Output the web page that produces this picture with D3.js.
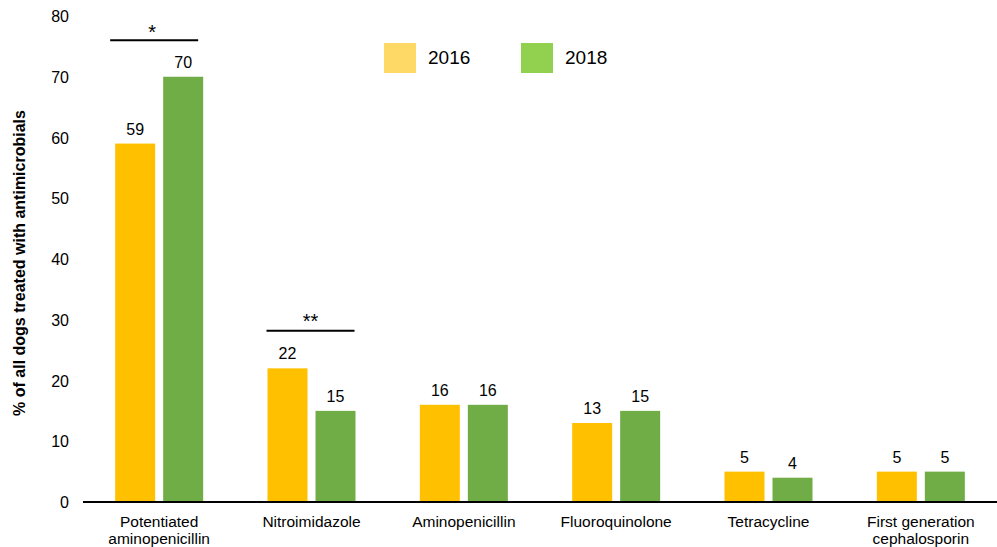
<!DOCTYPE html>
<html><head><meta charset="utf-8">
<script src="https://cdn.jsdelivr.net/npm/d3@7"></script>
<style>body{margin:0;background:#fff}svg{font-family:"Liberation Sans",Arial,sans-serif}</style>
</head><body><svg id="c" width="997" height="547"></svg>
<script>
const categories = [["Potentiated","aminopenicillin"],["Nitroimidazole"],["Aminopenicillin"],["Fluoroquinolone"],["Tetracycline"],["First generation","cephalosporin"]];
const years = ["2016","2018"];
const values2016 = [59,22,16,13,5,5];
const values2018 = [70,15,16,15,4,5];
const yTicks = [0,10,20,30,40,50,60,70,80];
const sigCats = [0,1];
const sigLabels = ["*","**"];
const sigLevels = [76,28.2];

const svg = d3.select("#c");
const x = d3.scaleBand().domain(d3.range(categories.length)).range([83,997]);
const y = d3.scaleLinear().domain([0,80]).range([502,16]);
const sub = d3.scaleBand().domain(years).range([0,96]);
const barW = 40;
const barColors = {"2016":"#FFC000","2018":"#70AD47"};
const legColors = {"2016":"#FFD966","2018":"#92D050"};
const sigShift = [-5,-1];

svg.append("g").selectAll("text").data(yTicks).join("text")
  .attr("x",69).attr("y",d=>y(d)+6).attr("text-anchor","end")
  .attr("font-size",16).attr("fill","#000").text(d=>d);

svg.append("text").attr("transform","translate(25,263) rotate(-90)")
  .attr("text-anchor","middle").attr("font-size",16).attr("font-weight","bold")
  .text("% of all dogs treated with antimicrobials");

const data = [];
categories.forEach((c,i)=>{
  data.push({i,yr:"2016",v:values2016[i]});
  data.push({i,yr:"2018",v:values2018[i]});
});
const off = x.bandwidth()/2 - 44;
svg.append("g").selectAll("rect").data(data).join("rect")
  .attr("x",d=>x(d.i)+off+sub(d.yr)).attr("width",barW)
  .attr("y",d=>y(d.v)).attr("height",d=>y(0)-y(d.v))
  .attr("fill",d=>barColors[d.yr]);
svg.append("g").selectAll("text").data(data).join("text")
  .attr("x",d=>x(d.i)+off+sub(d.yr)+barW/2).attr("y",d=>y(d.v)-9)
  .attr("text-anchor","middle").attr("font-size",16).text(d=>d.v);

svg.append("line").attr("x1",83).attr("x2",997).attr("y1",y(0)).attr("y2",y(0))
  .attr("stroke","#000").attr("stroke-width",2);

categories.forEach((c,i)=>{
  const t = svg.append("text").attr("text-anchor","middle").attr("font-size",15.5)
    .attr("x",x(i)+x.bandwidth()/2).attr("y",527);
  c.forEach((line,k)=>t.append("tspan").attr("x",x(i)+x.bandwidth()/2).attr("dy",k?17:0).text(line));
});

sigCats.forEach((ci,k)=>{
  const x0 = x(ci)+off+sub("2016")+sigShift[k];
  const x1 = x(ci)+off+sub("2018")+barW+sigShift[k];
  svg.append("line").attr("x1",x0).attr("x2",x1).attr("y1",y(sigLevels[k])).attr("y2",y(sigLevels[k]))
    .attr("stroke","#000").attr("stroke-width",2);
  svg.append("text").attr("x",(x0+x1)/2+(k?0:-2)).attr("y",y(sigLevels[k])-(k?3:1)).attr("text-anchor","middle")
    .attr("font-size",20).text(sigLabels[k]);
});

const lg = svg.append("g");
const legX = {"2016":384,"2018":521};
years.forEach(yr=>{
  lg.append("rect").attr("x",legX[yr]).attr("y",43).attr("width",32).attr("height",30).attr("fill",legColors[yr]);
  lg.append("text").attr("x",legX[yr]+44).attr("y",64).attr("font-size",19).text(yr);
});
</script></body></html>
